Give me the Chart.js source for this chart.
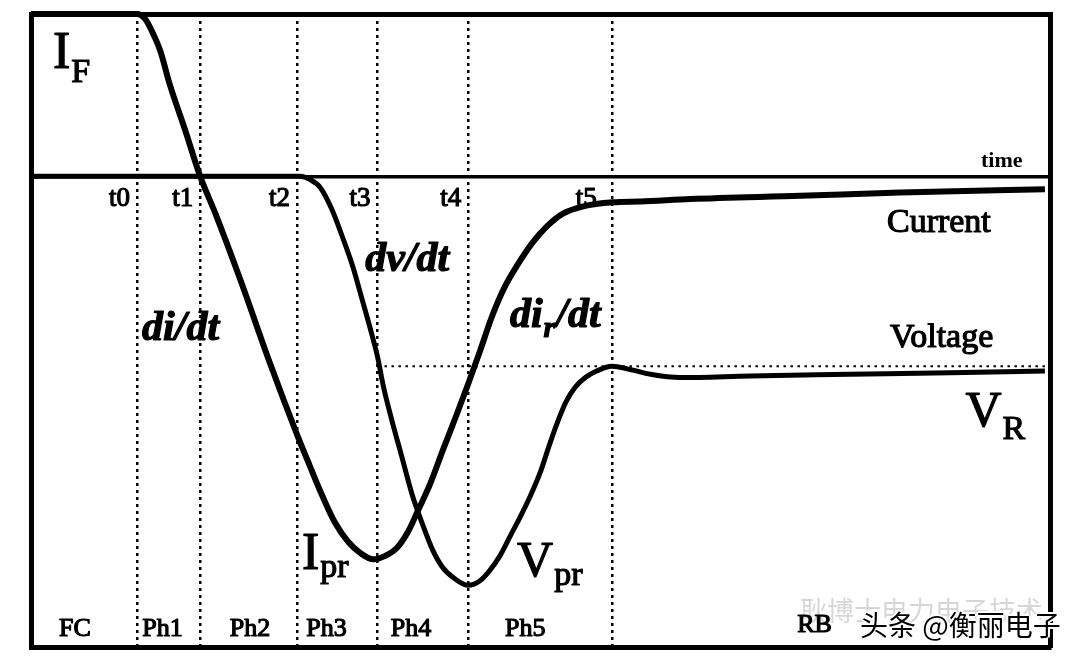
<!DOCTYPE html>
<html>
<head>
<meta charset="utf-8">
<script src="https://cdn.jsdelivr.net/npm/chart.js@4.4.0/dist/chart.umd.min.js"></script>
<style>
  body { margin: 0; background: #fff; }
  #wrap { position: relative; width: 1080px; height: 660px; }
  .wm-back {
    position: absolute; left: 800px; top: 590px;
    font: 27px "Noto Sans CJK SC", sans-serif; color: rgba(0, 0, 0, 0.16);
    white-space: nowrap;
  }
  .wm-front {
    position: absolute; left: 860px; top: 604px;
    font: 28px "Noto Sans CJK SC", sans-serif; color: #000;
    white-space: nowrap;
    text-shadow: -2px 0 #fff, 2px 0 #fff, 0 -2px #fff, 0 2px #fff;
  }
</style>
</head>
<body>
<div id="wrap">
  <canvas id="chart" width="1080" height="660"></canvas>
  <div class="wm-back">耿博士电力电子技术</div>
  <div class="wm-front">头条 @衡丽电子</div>
</div>
<script>
// time axis: 0..100 across the frame, current/voltage: IF = 1, zero on the time line
const tEdges = [10.4, 16.6, 26.1, 34.0, 42.9, 57.0];
const tLabels = ["t0", "t1", "t2", "t3", "t4", "t5"];
const phaseNames = ["FC", "Ph1", "Ph2", "Ph3", "Ph4", "Ph5", "RB"];
const phaseCenters = [4.3, 12.9, 21.5, 29.0, 37.3, 48.5, 76.9];

const currentX = [0, 10.4, 11.2, 11.9, 12.7, 13.6, 15.1, 16.6, 18.1, 20.5, 23.5, 26.1, 27.4, 28.6, 29.8,
  31.1, 32.3, 33.6, 34.7, 35.9, 37.0, 37.9, 39.2, 40.4, 41.7, 42.9, 44.1, 45.2, 46.5, 47.8,
  49.2, 50.6, 52.2, 54.2, 57.1, 59.8, 64.7, 75.5, 85.3, 99.5];
const currentY = [1.0, 1.0, 0.97, 0.89, 0.77, 0.57, 0.29, 0.0, -0.23, -0.63, -1.16, -1.59, -1.79, -1.97, -2.13,
  -2.25, -2.32, -2.36, -2.34, -2.29, -2.19, -2.07, -1.89, -1.69, -1.48, -1.28, -1.07, -0.87, -0.68, -0.54,
  -0.41, -0.31, -0.23, -0.185, -0.16, -0.155, -0.14, -0.12, -0.1, -0.08];

const voltageX = [0, 26.4, 27.4, 28.4, 29.5, 30.6, 31.6, 32.5, 33.3, 34.0, 34.6, 35.4, 36.4, 37.4, 38.4,
  39.4, 40.4, 41.6, 42.9, 44.1, 45.0, 46.0, 47.0, 48.0, 49.0, 50.0, 50.9, 51.7, 52.5, 53.4, 54.4,
  55.5, 57.0, 58.8, 60.8, 63.7, 70.6, 80.4, 90.2, 99.5];
const voltageY = [0, 0, -0.02, -0.07, -0.2, -0.38, -0.56, -0.76, -0.94, -1.11, -1.3, -1.5, -1.73, -1.96, -2.14,
  -2.3, -2.41, -2.48, -2.52, -2.49, -2.43, -2.34, -2.22, -2.1, -1.97, -1.82, -1.65, -1.51, -1.39, -1.3, -1.24,
  -1.2, -1.17, -1.19, -1.22, -1.24, -1.23, -1.22, -1.21, -1.2];

const vrLevel = -1.17;

function toPoints(xs, ys) {
  return xs.map((x, i) => ({ x: x, y: ys[i] }));
}

const SERIF = '"Liberation Serif", "DejaVu Serif", serif';

// text on the plot, positions in data units
const notes = [
  { x: 2.16, y: 0.67, parts: [["I", "52px"], ["F", "34px", 14]] },
  { x: 91.7, y: -1.54, parts: [["V", "50px"], ["R", "34px", 13]] },
  { x: 26.6, y: -2.42, parts: [["I", "52px"], ["pr", "34px", 8]] },
  { x: 47.7, y: -2.46, parts: [["V", "50px"], ["pr", "34px", 9]] },
  { x: 84.0, y: -0.345, parts: [["Current", "34px"]] },
  { x: 84.3, y: -1.05, parts: [["Voltage", "34px"]] },
  { x: 10.9, y: -1.01, italic: true, parts: [["di/dt", "42px"]] },
  { x: 32.8, y: -0.585, italic: true, parts: [["dv/dt", "42px"]] },
  { x: 47.0, y: -0.93, italic: true, parts: [["di", "42px"], ["r", "30px", 10], ["/dt", "42px"]] }
];

const labelPlugin = {
  id: "labels",
  afterDraw(chart) {
    const ctx = chart.ctx;
    const xs = chart.scales.x;
    const ys = chart.scales.y;
    ctx.save();
    ctx.fillStyle = "#000";
    ctx.strokeStyle = "#000";
    ctx.lineWidth = 1.2;
    ctx.lineJoin = "round";
    ctx.textBaseline = "alphabetic";

    // t0..t5 under the time line
    ctx.font = "27px " + SERIF;
    ctx.textAlign = "right";
    tEdges.forEach((v, i) => {
      const px = xs.getPixelForValue(v) - (i === 5 ? 15 : 7);
      const py = ys.getPixelForValue(-0.18);
      ctx.fillText(tLabels[i], px, py);
      ctx.strokeText(tLabels[i], px, py);
    });

    ctx.textAlign = "right";
    ctx.font = "bold 22px " + SERIF;
    ctx.fillText("time", xs.getPixelForValue(97.3), ys.getPixelForValue(0.06));

    // phase names along the bottom
    ctx.textAlign = "center";
    ctx.font = "26px " + SERIF;
    phaseNames.forEach((name, i) => {
      const py = ys.getPixelForValue(name === "RB" ? -2.81 : -2.83);
      ctx.fillText(name, xs.getPixelForValue(phaseCenters[i]), py);
      ctx.strokeText(name, xs.getPixelForValue(phaseCenters[i]), py);
    });

    ctx.textAlign = "left";
    notes.forEach((n) => {
      let px = xs.getPixelForValue(n.x);
      const py = ys.getPixelForValue(n.y);
      n.parts.forEach((p) => {
        ctx.font = (n.italic ? "italic bold " : "") + p[1] + " " + SERIF;
        ctx.fillText(p[0], px, py + (p[2] || 0));
        ctx.strokeText(p[0], px, py + (p[2] || 0));
        px += ctx.measureText(p[0]).width + 1;
      });
    });
    ctx.restore();
  }
};

const ctx = document.getElementById("chart").getContext("2d");

new Chart(ctx, {
  type: "line",
  data: {
    datasets: [
      {
        label: "Current",
        data: toPoints(currentX, currentY),
        borderColor: "#000",
        borderWidth: 6,
        pointRadius: 0,
        cubicInterpolationMode: "monotone",
        clip: 10
      },
      {
        label: "Voltage",
        data: toPoints(voltageX, voltageY),
        borderColor: "#000",
        borderWidth: 5,
        pointRadius: 0,
        cubicInterpolationMode: "monotone",
        clip: 10
      },
      {
        label: "VR level",
        data: [{ x: tEdges[3], y: vrLevel }, { x: 99.5, y: vrLevel }],
        borderColor: "#000",
        borderWidth: 2,
        borderDash: [2.5, 4.5],
        pointRadius: 0
      }
    ]
  },
  options: {
    responsive: false,
    animation: false,
    layout: { padding: { left: 31, top: 14, right: 30, bottom: 13 } },
    plugins: {
      legend: { display: false },
      tooltip: { enabled: false }
    },
    scales: {
      x: {
        type: "linear",
        min: 0,
        max: 100,
        afterBuildTicks: (scale) => {
          scale.ticks = tEdges.map((v) => ({ value: v }));
        },
        ticks: { display: false },
        grid: { color: "#000", lineWidth: 2.5, drawTicks: false },
        border: { display: true, color: "#000", width: 5, dash: [3, 4] }
      },
      y: {
        min: -2.9,
        max: 1,
        afterBuildTicks: (scale) => {
          scale.ticks = [{ value: 0 }];
        },
        ticks: { display: false },
        grid: { color: "#000", lineWidth: 3.5, drawTicks: false },
        border: { display: true, color: "#000", width: 5 }
      },
      x2: {
        type: "linear",
        position: "top",
        min: 0,
        max: 100,
        ticks: { display: false },
        grid: { display: false, drawTicks: false },
        border: { display: true, color: "#000", width: 5 }
      },
      y2: {
        position: "right",
        min: -2.9,
        max: 1,
        ticks: { display: false },
        grid: { display: false, drawTicks: false },
        border: { display: true, color: "#000", width: 5 }
      }
    }
  },
  plugins: [labelPlugin]
});
</script>
</body>
</html>
